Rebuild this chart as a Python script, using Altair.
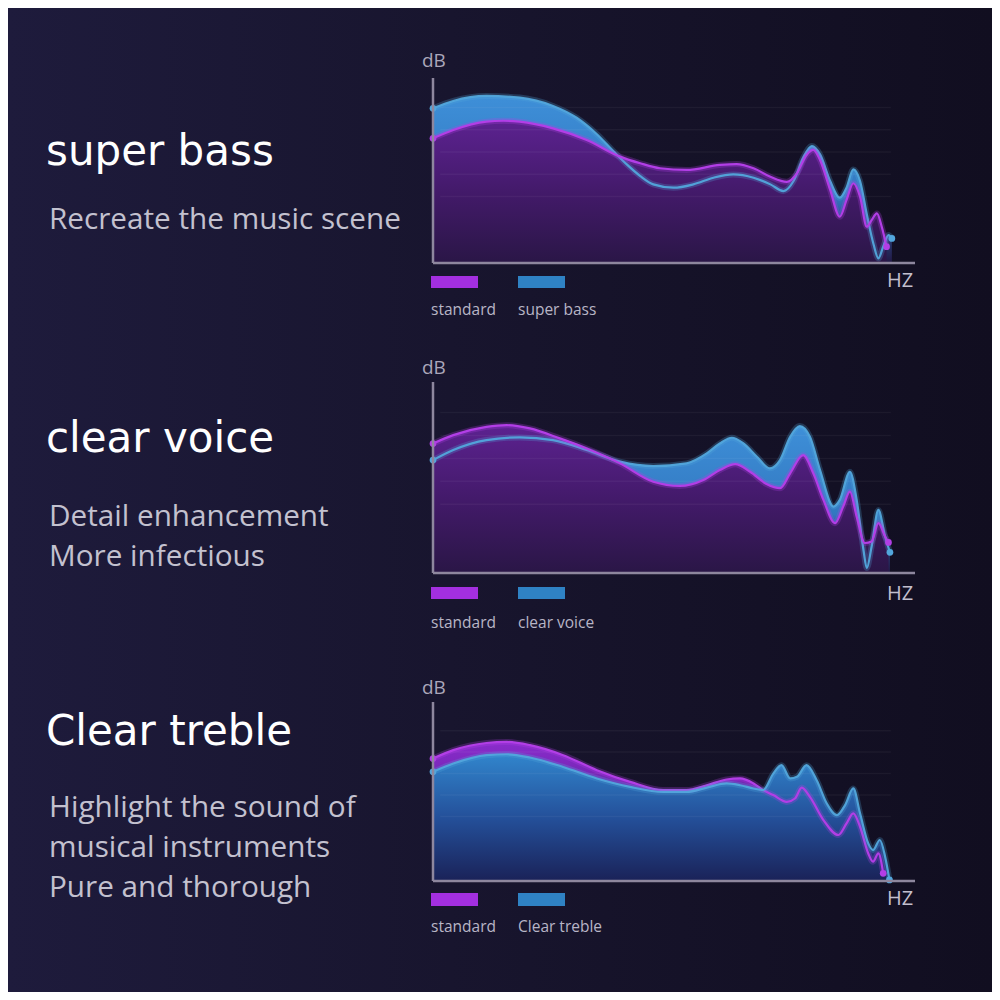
import altair as alt
import pandas as pd

# ---------------- data (relative frequency 0-100, relative level 0-100 dB) ----------------
P1_STD_X = [0, 4.2, 11.1, 14.6, 18.0, 24.9, 31.9, 38.8, 43.0, 47.1, 52.6, 59.5, 63.0, 66.5, 70.0, 73.4, 75.5, 77.5, 78.9, 80.3, 82.4, 84.4, 85.8, 87.2, 88.6, 90.0, 91.0, 92.1, 93.1, 94.1]
P1_STD_Y = [67.4, 71.9, 76.4, 76.9, 76.4, 72.8, 66.5, 57.5, 53.9, 51.2, 50.3, 53.0, 53.5, 51.2, 46.6, 43.9, 48.5, 58.4, 61.1, 55.7, 39.5, 25.0, 34.1, 43.1, 35.8, 19.6, 23.2, 26.8, 19.6, 8.8]
P1_MODE_X = [0, 4.2, 11.1, 18.0, 24.9, 29.8, 34.0, 37.4, 40.2, 43.0, 45.7, 49.9, 54.0, 58.2, 62.3, 66.5, 70.0, 72.7, 74.8, 76.8, 78.6, 80.3, 82.4, 84.4, 85.8, 87.2, 88.6, 90.0, 91.4, 92.4, 93.4, 94.5, 95.2]
P1_MODE_Y = [83.6, 87.6, 90.3, 89.4, 84.9, 78.5, 69.6, 60.5, 53.3, 47.0, 42.5, 40.7, 42.5, 46.1, 47.9, 46.1, 42.5, 38.9, 44.3, 56.9, 63.2, 58.7, 44.3, 35.3, 40.7, 50.6, 44.3, 26.3, 10.1, 2.5, 8.8, 15.1, 13.3]

P2_STD_X = [0, 4.2, 11.1, 15.3, 20.1, 26.3, 31.9, 38.8, 45.7, 51.2, 56.1, 59.5, 62.7, 65.8, 69.2, 72.0, 74.1, 76.8, 78.9, 81.0, 83.4, 85.1, 86.5, 87.9, 89.6, 91.0, 92.4, 93.8, 94.5]
P2_STD_Y = [67.8, 72.2, 76.5, 77.4, 75.7, 70.5, 65.2, 57.4, 47.8, 45.6, 48.7, 53.9, 57.0, 53.0, 46.6, 44.4, 52.2, 61.7, 52.2, 38.3, 26.1, 34.8, 42.6, 29.5, 15.7, 16.5, 26.1, 19.1, 16.0]
P2_MODE_X = [0, 4.2, 11.1, 18.0, 24.9, 31.9, 38.8, 45.7, 52.6, 56.8, 59.5, 62.0, 64.4, 67.2, 69.9, 72.0, 74.1, 76.1, 78.2, 80.3, 83.1, 84.4, 86.5, 87.9, 89.3, 90.0, 91.0, 92.4, 93.8, 94.8]
P2_MODE_Y = [59.1, 64.4, 69.6, 71.0, 69.6, 64.4, 58.3, 56.0, 57.4, 62.6, 67.8, 70.8, 67.8, 60.9, 54.8, 59.1, 71.3, 76.9, 71.3, 53.9, 34.8, 38.3, 53.0, 38.3, 12.2, 2.6, 13.9, 33.0, 19.1, 10.8]

P3_STD_X = [0, 4.2, 11.1, 15.3, 20.1, 27.0, 34.0, 40.9, 47.8, 52.6, 56.8, 60.9, 63.7, 66.5, 68.5, 70.6, 73.4, 75.1, 76.5, 78.2, 81.0, 84.1, 85.8, 87.2, 88.6, 90.3, 91.3, 92.4, 93.4]
P3_STD_Y = [68.4, 73.1, 77.1, 77.7, 75.9, 70.3, 61.9, 55.4, 50.8, 50.8, 53.5, 56.7, 57.3, 54.5, 50.8, 48.0, 44.2, 46.1, 52.2, 47.0, 34.0, 25.7, 32.2, 37.8, 30.3, 15.4, 10.8, 15.4, 4.3]
P3_MODE_X = [0, 4.2, 11.1, 15.3, 20.1, 27.0, 34.0, 40.9, 47.8, 52.6, 56.8, 60.9, 63.7, 66.5, 68.5, 70.6, 72.3, 74.1, 75.5, 77.5, 79.6, 81.7, 83.8, 85.5, 87.2, 88.6, 90.3, 91.3, 92.7, 93.8, 94.7]
P3_MODE_Y = [61.0, 65.6, 70.3, 70.8, 69.0, 63.7, 57.3, 52.6, 49.8, 49.8, 52.2, 54.5, 53.5, 51.7, 50.8, 60.0, 64.7, 57.3, 58.2, 64.7, 56.3, 43.3, 36.8, 42.4, 51.7, 37.8, 21.0, 17.3, 22.9, 13.6, 0.6]

GRID_LEVELS = [36, 48, 60, 72, 84]
AXIS_X = [0, 100]
AXIS_Y = [0, 100]

TITLES = ["super bass", "clear voice", "Clear treble"]
SUBTITLES = [["Recreate the music scene"],
             ["Detail enhancement", "More infectious"],
             ["Highlight the sound of", "musical instruments", "Pure and thorough"]]
LEGEND_STD = "standard"
LEGEND_MODE = ["super bass", "clear voice", "Clear treble"]
Y_LABEL = "dB"
X_LABEL = "HZ"

# ---------------- styling / layout ----------------
BG = "#17142c"
PURPLE_LINE = "#b23ee6"
BLUE_LINE = "#52a6dc"
AXIS_COL = "#8e879e"
FONT = "Open Sans"
TITLE_FONT = "DejaVu Sans"
PANEL_W = 984
PANEL_H = 328

# per-panel local pixel layout
PANELS = [
    dict(yr=[255, 70], title=157, sub=[221], db=59, hz=279, sw=[268, 280], lab=307),
    dict(yr=[237, 46], title=116, sub=[190, 230], db=38, hz=264, sw=[251, 263], lab=292),
    dict(yr=[217, 38], title=81, sub=[153, 193, 233], db=30, hz=241, sw=[229, 242], lab=268),
]

XS = alt.Scale(domain=[0, 100], range=[425, 907])


def grad(stops):
    return alt.Gradient(gradient="linear",
                        stops=[alt.GradientStop(color=c, offset=o) for o, c in stops],
                        x1=1, x2=1, y1=0, y2=1)


def txt(s, x, y, size, color, font=FONT):
    return alt.Chart(pd.DataFrame({"t": [s]})).mark_text(
        font=font, fontSize=size, color=color, align="left", baseline="alphabetic"
    ).encode(x=alt.value(x), y=alt.value(y), text="t:N")


def panel(i, std_x, std_y, mode_x, mode_y):
    p = PANELS[i]
    ys = alt.Scale(domain=[0, 100], range=p["yr"])
    std = pd.DataFrame({"x": std_x, "y": std_y})
    mode = pd.DataFrame({"x": mode_x, "y": mode_y})
    X = alt.X("x:Q", scale=XS, axis=None)
    Y = alt.Y("y:Q", scale=ys, axis=None)

    def area(df, g):
        return alt.Chart(df).mark_area(interpolate="monotone", color=g).encode(x=X, y=Y)

    def line(df, c, w, op):
        return alt.Chart(df).mark_line(interpolate="monotone", color=c, strokeWidth=w,
                                       opacity=op).encode(x=X, y=Y)

    def ends(df, c):
        d = pd.concat([df.iloc[[0]], df.iloc[[-1]]])
        return alt.Chart(d).mark_circle(color=c, size=45, opacity=1).encode(x=X, y=Y)

    purple_area = grad([(0, "#5c2290"), (0.5, "#431a6a"), (1, "#2a1646")])
    blue_area_band = grad([(0, "#3e8fd8"), (0.6, "#3278c0"), (1, "#221845")])
    blue_area_main = grad([(0, "#3185cc"), (0.5, "#24509a"), (1, "#1a2258")])
    purple_band = grad([(0, "#8a2ccc"), (0.6, "#5a1e96"), (1, "#2a1646")])

    bg = alt.Chart(pd.DataFrame({"a": [0]})).mark_rect(
        color=alt.Gradient(gradient="linear",
                           stops=[alt.GradientStop(color="#1e1b3c", offset=0),
                                  alt.GradientStop(color="#18152e", offset=0.45),
                                  alt.GradientStop(color="#110e20", offset=1)],
                           x1=0, y1=0, x2=1, y2=0)
    ).encode(x=alt.value(0), x2=alt.value(PANEL_W), y=alt.value(0), y2=alt.value(PANEL_H))

    gdf = pd.DataFrame({"g": GRID_LEVELS, "x1": [1.5] * len(GRID_LEVELS), "x2": [95] * len(GRID_LEVELS)})
    grid = alt.Chart(gdf).mark_rule(color="#ffffff", opacity=0.045, strokeWidth=1.5).encode(
        y=alt.Y("g:Q", scale=ys, axis=None), x=alt.X("x1:Q", scale=XS, axis=None), x2="x2:Q")

    ya = pd.DataFrame({"x": [AXIS_X[0]], "y1": [AXIS_Y[0]], "y2": [AXIS_Y[1]]})
    yaxis = alt.Chart(ya).mark_rule(color=AXIS_COL, strokeWidth=2.5).encode(
        x=alt.X("x:Q", scale=XS, axis=None), y=alt.Y("y1:Q", scale=ys, axis=None), y2="y2:Q")
    xa = pd.DataFrame({"y": [AXIS_Y[0]], "x1": [AXIS_X[0]], "x2": [AXIS_X[1]]})
    xaxis = alt.Chart(xa).mark_rule(color=AXIS_COL, strokeWidth=2.5).encode(
        y=alt.Y("y:Q", scale=ys, axis=None), x=alt.X("x1:Q", scale=XS, axis=None), x2="x2:Q")

    layers = [bg]
    if i < 2:
        layers += [area(mode, blue_area_band), area(std, purple_area), grid,
                   line(mode, BLUE_LINE, 6, 0.25), line(mode, BLUE_LINE, 2.2, 0.95),
                   line(std, PURPLE_LINE, 6, 0.25), line(std, PURPLE_LINE, 2.2, 1),
                   ends(mode, BLUE_LINE), ends(std, PURPLE_LINE)]
    else:
        layers += [area(std, purple_band), area(mode, blue_area_main), grid,
                   line(std, PURPLE_LINE, 6, 0.25), line(std, PURPLE_LINE, 2.2, 1),
                   line(mode, BLUE_LINE, 6, 0.25), line(mode, BLUE_LINE, 2.2, 0.95),
                   ends(std, PURPLE_LINE), ends(mode, BLUE_LINE)]
    layers += [yaxis, xaxis]

    layers.append(txt(Y_LABEL, 414, p["db"], 19, "#aaa6ba"))
    layers.append(txt(X_LABEL, 879, p["hz"], 20, "#c2bfce"))
    sw = pd.DataFrame({"a": [0]})
    layers.append(alt.Chart(sw).mark_rect(color="#a32fe0").encode(
        x=alt.value(423), x2=alt.value(470), y=alt.value(p["sw"][0]), y2=alt.value(p["sw"][1])))
    layers.append(alt.Chart(sw).mark_rect(color="#2f82c4").encode(
        x=alt.value(510), x2=alt.value(557), y=alt.value(p["sw"][0]), y2=alt.value(p["sw"][1])))
    layers.append(txt(LEGEND_STD, 423, p["lab"], 15.5, "#b8b5c6"))
    layers.append(txt(LEGEND_MODE[i], 510, p["lab"], 15.5, "#b8b5c6"))

    layers.append(txt(TITLES[i], 38, p["title"], 42, "#ffffff", font=TITLE_FONT))
    for s, yb in zip(SUBTITLES[i], p["sub"]):
        layers.append(txt(s, 41, yb, 29.7, "#c3c1cf"))
    return alt.layer(*layers).properties(width=PANEL_W, height=PANEL_H)


chart = alt.vconcat(
    panel(0, P1_STD_X, P1_STD_Y, P1_MODE_X, P1_MODE_Y),
    panel(1, P2_STD_X, P2_STD_Y, P2_MODE_X, P2_MODE_Y),
    panel(2, P3_STD_X, P3_STD_Y, P3_MODE_X, P3_MODE_Y),
    spacing=0, bounds="flush",
).properties(padding=0).configure(background=BG).configure_view(stroke=None)

chart.save("out.html", embed_options={"renderer": "svg", "actions": False})
